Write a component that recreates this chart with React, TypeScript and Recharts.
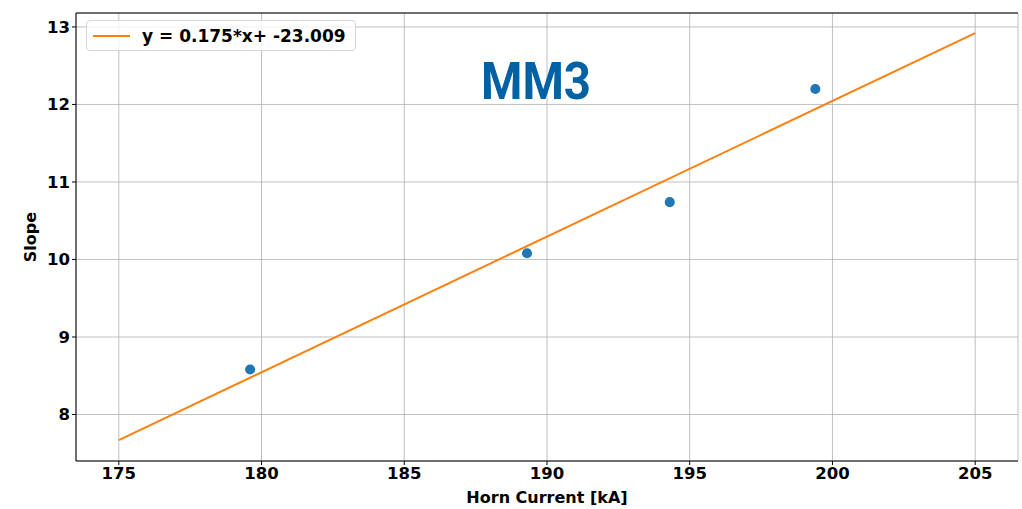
import { ComposedChart, Scatter, Line, XAxis, YAxis, ZAxis, CartesianGrid } from "recharts";

const currents = [179.6, 189.3, 194.3, 199.4];
const slopes = [8.58, 10.08, 10.74, 12.2];
const fitX = [175, 205];
const fitY = [7.67, 12.92];
const xTicks = [175, 180, 185, 190, 195, 200, 205];
const yTicks = [8, 9, 10, 11, 12, 13];

const points = currents.map((x, i) => ({ x, y: slopes[i] }));
const fitLine = fitX.map((x, i) => ({ x, fit: fitY[i] }));

const font = "'DejaVu Sans', sans-serif";
const tickStyle = { fontFamily: font, fontWeight: "bold", fontSize: 16.5, fill: "#000" };
const xDomain = [173.5, 206.5];
const yDomain = [7.4, 13.18];

const LegendBox = () => (
    <div
        style={{
            position: "absolute",
            left: 86,
            top: 20,
            width: 270,
            height: 31,
            border: "1px solid #d6d6d6",
            borderRadius: 4,
            background: "rgba(255,255,255,0.8)",
            display: "flex",
            alignItems: "center",
            boxSizing: "border-box",
            fontFamily: font,
            fontWeight: "bold",
            fontSize: 17,
            color: "#000",
        }}
    >
        <span style={{ display: "inline-block", width: 37, height: 2, background: "#ff7f0e", marginLeft: 6, marginRight: 12 }} />
        y = 0.175*x+ -23.009
    </div>
);

export default function App() {
    return (
        <div style={{ position: "absolute", left: 0, top: 0, width: 1022, height: 509, background: "#fff" }}>
            <ComposedChart width={1022} height={509} margin={{ top: 12, right: 4, bottom: 0, left: 0 }}>
                <CartesianGrid xAxisId="b" yAxisId="l" stroke="#b0b0b0" strokeWidth={0.8} />
                <XAxis
                    xAxisId="b"
                    type="number"
                    dataKey="x"
                    domain={xDomain}
                    ticks={xTicks}
                    height={48}
                    tick={tickStyle}
                    tickSize={4}
                    stroke="#000"
                    allowDataOverflow
                    label={{ value: "Horn Current [kA]", position: "insideBottom", offset: 6, style: { fontFamily: font, fontWeight: "bold", fontSize: 16, fill: "#000" } }}
                />
                <XAxis xAxisId="t" orientation="top" type="number" domain={xDomain} height={1} tick={false} tickLine={false} axisLine={{ stroke: "#000", strokeWidth: 1 }} />
                <YAxis
                    yAxisId="l"
                    type="number"
                    domain={yDomain}
                    ticks={yTicks}
                    width={76}
                    tick={tickStyle}
                    tickSize={4}
                    stroke="#000"
                    allowDataOverflow
                    label={{ value: "Slope", angle: -90, position: "insideLeft", offset: 30, style: { fontFamily: font, fontWeight: "bold", fontSize: 16, fill: "#000", textAnchor: "middle" } }}
                />
                <YAxis yAxisId="r" orientation="right" type="number" domain={yDomain} width={0} tick={false} tickLine={false} axisLine={{ stroke: "#000", strokeWidth: 1 }} />
                <ZAxis zAxisId="z" range={[80, 80]} />
                <Scatter xAxisId="b" yAxisId="l" zAxisId="z" data={points} dataKey="y" fill="#1f77b4" shape="circle" isAnimationActive={false} />
                <Line xAxisId="b" yAxisId="l" data={fitLine} dataKey="fit" stroke="#ff7f0e" strokeWidth={2} dot={false} isAnimationActive={false} />
                <text x={536} y={99} textAnchor="middle" textLength={110} lengthAdjust="spacingAndGlyphs" style={{ fontFamily: "Roboto, sans-serif", fontWeight: 700, fontSize: 52, fill: "#0061a5" }}>
                    MM3
                </text>
            </ComposedChart>
            <LegendBox />
        </div>
    );
}
